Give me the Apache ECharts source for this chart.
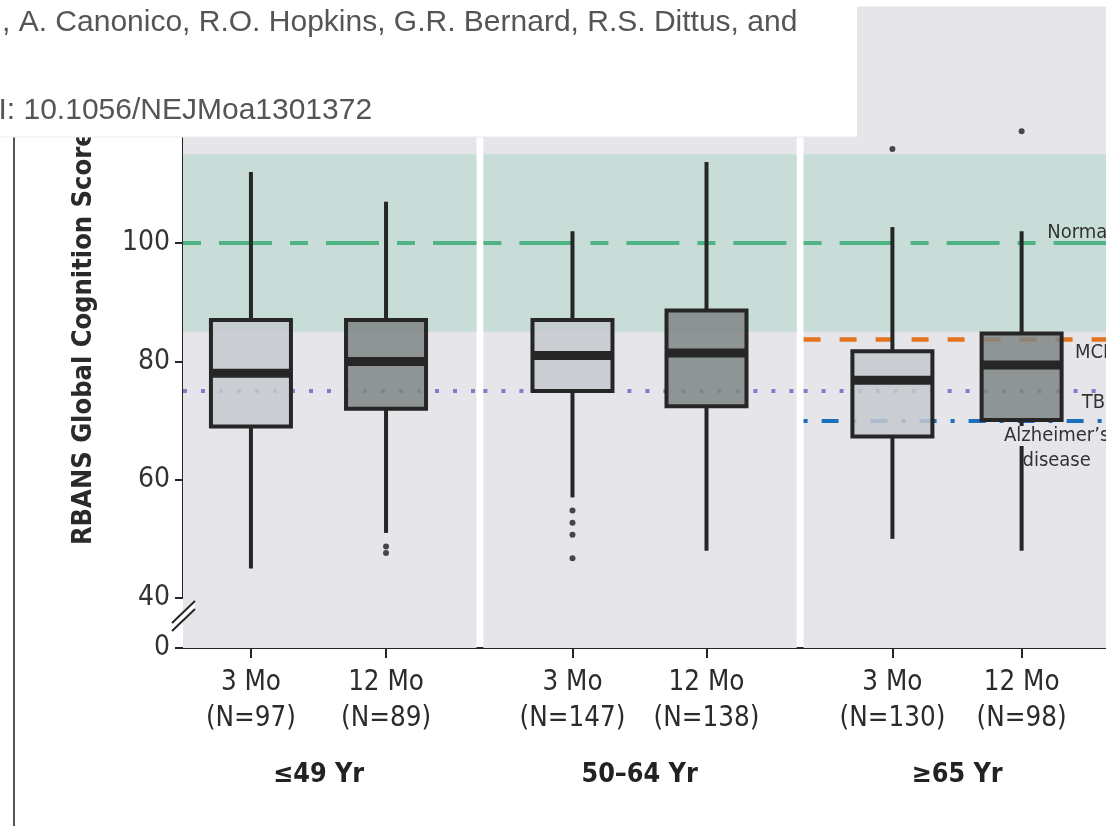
<!DOCTYPE html>
<html><head><meta charset="utf-8">
<script src="https://cdn.jsdelivr.net/npm/echarts@6/dist/echarts.min.js"></script>
<style>html,body{margin:0;padding:0;background:#fff}#c{width:1106px;height:826px}</style>
</head><body><div id="c"></div>
<script>
// ---------------- data ----------------
const categories = ['3 Mo', '12 Mo', '3 Mo', '12 Mo', '3 Mo', '12 Mo'];
const sampleSizes = [97, 89, 147, 138, 130, 98];
const ageGroups = ['≤49 Yr', '50–64 Yr', '≥65 Yr'];
// [min, Q1, median, Q3, max]
const boxStats = [
  [45, 69, 78, 87, 112],
  [51, 72, 80, 87, 107],
  [57, 75, 81, 87, 102],
  [48, 72.4, 81.4, 88.6, 113.7],
  [50, 67.3, 76.8, 81.7, 102.7],
  [48, 70.1, 79.4, 84.7, 102]
];
const outlierValues = [[], [48.7, 47.6], [54.8, 52.7, 50.7, 46.7], [], [115.9], [118.9]];
const refNames = ['Normal', 'MCI', 'TBI', 'Alzheimer’s\ndisease'];
const refValues = [100, 83.8, 75, 70];
const normalRange = [85, 115];
const yTickLabels = [0, 40, 60, 80, 100, 120, 140];

// ---------------- layout (not data) ----------------
const slotPos = [2.54, 7.59, 14.56, 19.57, 26.52, 31.35];
const groupPos = [5.07, 17.07, 28.94];
const panelRanges = [[0, 10.97], [11.23, 22.94], [23.2, 36]];
const lineEnd = 34.74;
const X_MAX = 36, Y_MIN = 0, Y_MAX = 140;
const refPanels = [[0, 1, 2], [2], [0, 1, 2], [2]];
const refStyles = [
  {color: '#4fb386', type: [18, 18, 53, 18], width: 4, pos: 'insideEndTop', dist: 0, lh: 20},
  {color: '#e2741f', type: [17, 19], width: 4.5, pos: 'insideEndBottom', dist: 4, lh: 20},
  {color: '#7c80c6', type: [4, 14], width: 4, pos: 'insideEndBottom', dist: 2, lh: 20},
  {color: '#1c6fbe', type: [4, 14, 17, 14], width: 4, pos: 'insideEndBottom', dist: 3, lh: 25}
];
const INK = '#262626';
const PANEL = '#e5e5ea';
const COND = "'DejaVu Sans Condensed', 'Liberation Sans Narrow', 'DejaVu Sans', sans-serif";

const chart = echarts.init(document.getElementById('c'), null, {renderer: 'canvas'});

const boxData = boxStats.map((s, i) => [slotPos[i]].concat(s));
const outlierData = [];
outlierValues.forEach((arr, i) => arr.forEach(v => outlierData.push([slotPos[i], v])));

const panelAreas = panelRanges.map(r => [{coord: [r[0], Y_MIN]}, {coord: [r[1], Y_MAX]}]);
const bandAreas = panelRanges.map(r => [{coord: [r[0], normalRange[0]]}, {coord: [r[1], normalRange[1]]}]);

const lineSegs = [];
const labelSegs = [];
refValues.forEach((v, k) => {
  const st = refStyles[k];
  refPanels[k].forEach(p => {
    const x0 = panelRanges[p][0];
    const x1 = p === 2 ? lineEnd : panelRanges[p][1];
    lineSegs.push([
      {coord: [x0, v], lineStyle: {color: st.color, type: st.type, width: st.width, cap: 'butt'}},
      {coord: [x1, v]}
    ]);
    if (p === 2) {
      const isAlz = k === 3;
      labelSegs.push([
        {coord: [x0, v], lineStyle: {color: 'rgba(0,0,0,0)', width: 1},
         label: {show: true, position: st.pos, distance: st.dist,
           formatter: isAlz ? '{a|Alzheimer’s}\n{b|disease}' : refNames[k],
           fontSize: 20, color: '#333', fontFamily: COND, lineHeight: st.lh, opacity: 1,
           rich: isAlz ? {
             a: {fontSize: 20, fontFamily: COND, color: '#333', backgroundColor: PANEL, lineHeight: st.lh},
             b: {fontSize: 20, fontFamily: COND, color: '#333', align: 'center', lineHeight: st.lh}
           } : undefined}},
        {coord: [x1, v]}
      ]);
    }
  });
});

function labelFor(v) {
  const i = slotPos.findIndex(p => Math.abs(p - v) < 1e-6);
  return i < 0 ? '' : categories[i] + '\n(N=' + sampleSizes[i] + ')';
}
function groupFor(v) {
  const i = groupPos.findIndex(p => Math.abs(p - v) < 1e-6);
  return i < 0 ? '' : ageGroups[i];
}

const option = {
  animation: false,
  textStyle: {fontFamily: COND},
  grid: {left: 183, top: 6.5, width: 963, bottom: 178, containLabel: false, outerBoundsMode: 'none'},
  xAxis: [{
    type: 'value', min: 0, max: X_MAX, position: 'bottom',
    axisLine: {show: true, onZero: false, lineStyle: {color: INK, width: 2}},
    axisTick: {show: true, customValues: slotPos, length: 10, lineStyle: {color: INK, width: 2}},
    axisLabel: {show: true, customValues: slotPos, formatter: labelFor, fontSize: 27.5, lineHeight: 36,
      color: '#2b2b2b', margin: 17, fontFamily: COND},
    splitLine: {show: false}
  }, {
    type: 'value', min: 0, max: X_MAX, position: 'bottom',
    axisLine: {show: false}, axisTick: {show: false},
    axisLabel: {show: true, customValues: groupPos, formatter: groupFor, fontSize: 26.7, fontWeight: 'bold',
      color: '#222', margin: 114, fontFamily: COND},
    splitLine: {show: false}
  }],
  yAxis: {
    type: 'value', min: Y_MIN, max: Y_MAX, interval: 20,
    breaks: [{start: 0, end: 40, gap: '7.8%'}],
    breakArea: {show: false},
    axisLine: {show: true, onZero: false, lineStyle: {color: INK, width: 2}},
    axisTick: {show: true, length: 8, lineStyle: {color: INK, width: 2}},
    axisLabel: {fontSize: 28, color: '#333', margin: 13, fontFamily: COND,
      formatter: v => (yTickLabels.indexOf(v) >= 0 ? String(v) : '')},
    splitLine: {show: false},
    name: 'RBANS Global Cognition Score', nameLocation: 'middle', nameGap: 86, nameRotate: 90,
    nameTextStyle: {fontSize: 27, fontWeight: 'bold', color: '#2a2a2a', fontFamily: COND, padding: [0, 21, 0, 0]}
  },
  series: [
    {type: 'scatter', name: 'panels', data: [], z: 1, silent: true,
     markArea: {z: 1, silent: true, itemStyle: {color: PANEL}, data: panelAreas}},
    {type: 'scatter', name: 'band', data: [], z: 1, silent: true,
     markArea: {z: 2, silent: true, itemStyle: {color: '#c8ddd7'}, data: bandAreas}},
    {type: 'scatter', name: 'refLines', data: [], z: 3, silent: true,
     markLine: {z: 3, silent: true, symbol: ['none', 'none'], label: {show: false}, data: lineSegs}},
    {type: 'custom', name: 'boxes', z: 4, silent: true,
     encode: {x: 0, y: [1, 2, 3, 4, 5]},
     data: boxData,
     renderItem: function (params, api) {
       const x = api.value(0);
       const pMin = api.coord([x, api.value(1)]);
       const pQ1 = api.coord([x, api.value(2)]);
       const pMed = api.coord([x, api.value(3)]);
       const pQ3 = api.coord([x, api.value(4)]);
       const pMax = api.coord([x, api.value(5)]);
       const w = 80, cx = pMed[0];
       const fill = categories[params.dataIndex] === '3 Mo' ? 'rgba(197,202,207,0.85)' : 'rgba(128,134,134,0.86)';
       return {type: 'group', children: [
         {type: 'line', shape: {x1: cx, y1: pMax[1], x2: cx, y2: pQ3[1]}, style: {stroke: INK, lineWidth: 4}},
         {type: 'line', shape: {x1: cx, y1: pQ1[1], x2: cx, y2: pMin[1]}, style: {stroke: INK, lineWidth: 4}},
         {type: 'rect', shape: {x: cx - w / 2, y: pQ3[1], width: w, height: pQ1[1] - pQ3[1]},
          style: {fill: fill, stroke: INK, lineWidth: 4}},
         {type: 'rect', shape: {x: cx - w / 2, y: pMed[1] - 4.5, width: w, height: 9}, style: {fill: INK}}
       ]};
     }},
    {type: 'scatter', name: 'outliers', z: 5, silent: true, data: outlierData,
     symbol: 'circle', symbolSize: 6, itemStyle: {color: '#1e1e1e'}},
    {type: 'scatter', name: 'refLabels', data: [], z: 6, silent: true,
     markLine: {z: 6, silent: true, symbol: ['none', 'none'], label: {show: false}, data: labelSegs}}
  ]
};
chart.setOption(option);

// decorations: break marks on the axis, page border, overlaid citation box
const p0 = chart.convertToPixel({yAxisIndex: 0}, 0);
const p40 = chart.convertToPixel({yAxisIndex: 0}, 40);
const ax = chart.convertToPixel({xAxisIndex: 0}, 0);
const bc = p40 + (p0 - p40) * 0.36;
chart.setOption({graphic: [
  {type: 'polygon', z: 50, shape: {points: [[ax - 12, bc + 7], [ax + 12, bc - 15], [ax + 12, bc - 7], [ax - 12, bc + 15]]},
   style: {fill: '#fff'}},
  {type: 'line', z: 51, shape: {x1: ax - 11, y1: bc + 7, x2: ax + 12, y2: bc - 15}, style: {stroke: INK, lineWidth: 2}},
  {type: 'line', z: 51, shape: {x1: ax - 11, y1: bc + 15, x2: ax + 12, y2: bc - 7}, style: {stroke: INK, lineWidth: 2}},
  {type: 'line', z: 60, shape: {x1: 14, y1: 0, x2: 14, y2: 826}, style: {stroke: '#555', lineWidth: 2}},
  {type: 'rect', z: 100, shape: {x: 0, y: 0, width: 857, height: 137}, style: {fill: '#fff'}},
  {type: 'line', z: 101, shape: {x1: 0, y1: 137, x2: 857, y2: 137}, style: {stroke: '#ececec', lineWidth: 1}},
  {type: 'text', z: 102, x: 2, y: 22.5, style: {text: ', A. Canonico, R.O. Hopkins, G.R. Bernard, R.S. Dittus, and',
    font: '30px "Liberation Sans", Arial, sans-serif', fill: '#555', verticalAlign: 'middle'}},
  {type: 'text', z: 102, x: -46.5, y: 111, style: {text: 'DOI: 10.1056/NEJMoa1301372',
    font: '30px "Liberation Sans", Arial, sans-serif', fill: '#555', verticalAlign: 'middle'}}
]});
</script>
</body></html>
